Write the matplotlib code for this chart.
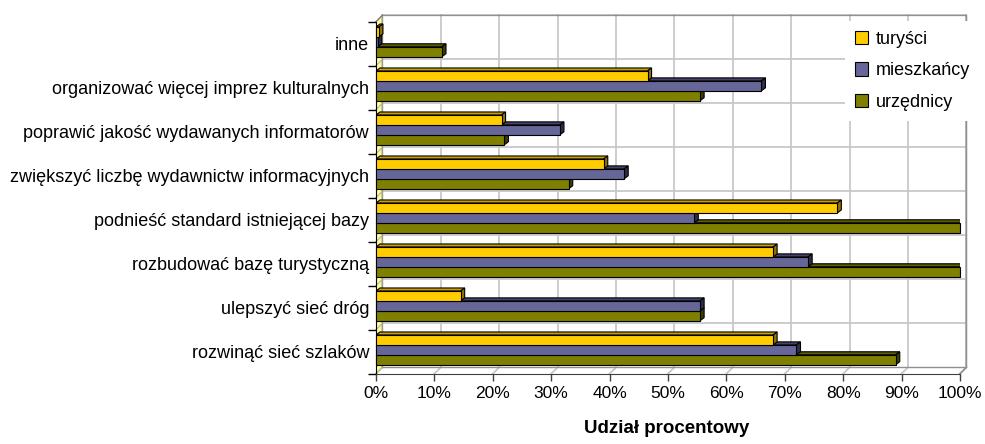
import matplotlib.pyplot as plt
from matplotlib.patches import Polygon, Patch
import numpy as np

plt.rcParams['font.family'] = ['Liberation Sans', 'DejaVu Sans']

# data (percent)
categories = ['inne',
              'organizować więcej imprez kulturalnych',
              'poprawić jakość wydawanych informatorów',
              'zwiększyć liczbę wydawnictw informacyjnych',
              'podnieść standard istniejącej bazy',
              'rozbudować bazę turystyczną',
              'ulepszyć sieć dróg',
              'rozwinąć sieć szlaków']
turysci = [0.5, 46.5, 21.5, 39, 79, 68, 14.5, 68]
mieszkancy = [0.3, 66, 31.5, 42.5, 54.5, 74, 55.5, 72]
urzednicy = [11.3, 55.5, 22, 33, 100, 100, 55.5, 89]
series_names = ['turyści', 'mieszkańcy', 'urzędnicy']
x_ticks = [0, 10, 20, 30, 40, 50, 60, 70, 80, 90, 100]

# colours: front, top, side
colors = [('#FFCC00', '#C9A000', '#8F7200'),
          ('#666699', '#44446A', '#2E2E4A'),
          ('#808000', '#5C5C00', '#3C3C00')]

W, H = 985, 444
fig = plt.figure(figsize=(W / 100, H / 100), dpi=100)
ax_left, ax_top, ax_w, ax_h = 376, 21.7, 584, 352
ax = fig.add_axes([ax_left / W, 1 - (ax_top + ax_h) / H, ax_w / W, ax_h / H])

n = len(categories)
ax.set_xlim(0, 100)
ax.set_ylim(n - 0.5, -0.5)

# pixel -> data unit helpers
px_x = 100 / ax_w
px_y = n / ax_h
off_x, off_y = 6.4 * px_x, 6.4 * px_y      # depth of the chart box
bdx, bdy = 4 * px_x, 3 * px_y              # depth of each bar

grid_c = '#c8c8c8'
border_c = '#909090'
bottom = n - 0.5
top = -0.5

# back wall grid
for xv in x_ticks:
    ax.plot([xv + off_x, xv + off_x], [top - off_y, bottom - off_y],
            color=grid_c, lw=1.3, zorder=0.5, clip_on=False)
    # floor diagonals
    ax.plot([xv, xv + off_x], [bottom, bottom - off_y],
            color=grid_c, lw=1.3, zorder=0.5, clip_on=False)
boundaries = np.arange(n + 1) - 0.5
for yb in boundaries[1:-1]:
    ax.plot([off_x, 100 + off_x], [yb - off_y, yb - off_y],
            color=grid_c, lw=1.3, zorder=0.5, clip_on=False)

# left wall
wall = Polygon([(0, top), (off_x, top - off_y), (off_x, bottom - off_y), (0, bottom)],
               closed=True, facecolor='#FFFF99', edgecolor='none', zorder=0.4, clip_on=False)
ax.add_patch(wall)
for yb in boundaries:
    ax.plot([0, off_x], [yb, yb - off_y], color='#c0c0a0', lw=1.0, zorder=0.6, clip_on=False)

# box border
ax.plot([off_x, 100 + off_x, 100 + off_x, 100],
        [top - off_y, top - off_y, bottom - off_y, bottom],
        color=border_c, lw=1.2, zorder=0.7, clip_on=False)
ax.plot([off_x, 100 + off_x], [bottom - off_y, bottom - off_y],
        color=border_c, lw=1.0, zorder=0.7, clip_on=False)
ax.plot([off_x, off_x], [top - off_y, bottom - off_y],
        color='#a0a080', lw=1.0, zorder=0.7, clip_on=False)
ax.plot([0, off_x], [top, top - off_y], color='#808080', lw=1.0, zorder=0.7, clip_on=False)

# bars with a small 3d depth
h = 0.225
first_top = -0.38
values = [turysci, mieszkancy, urzednicy]
z = 2
for i in range(n):
    for s in [2, 1, 0]:
        v = values[s][i]
        yt = i + first_top + s * h
        yb = yt + h
        front, topc, side = colors[s]
        top_face = Polygon([(0, yt), (v, yt), (v + bdx, yt - bdy), (bdx, yt - bdy)],
                           closed=True, facecolor=topc, edgecolor='black', lw=0.8, zorder=z)
        end_face = Polygon([(v, yt), (v + bdx, yt - bdy), (v + bdx, yb - bdy), (v, yb)],
                           closed=True, facecolor=side, edgecolor='black', lw=0.8, zorder=z)
        ax.add_patch(top_face)
        ax.add_patch(end_face)
        ax.barh(yt + h / 2, v, height=h, color=front, edgecolor='black', lw=0.8,
                zorder=z + 0.1, clip_on=False)
        z += 0.2

# axes
for sp in ['top', 'right']:
    ax.spines[sp].set_visible(False)
ax.spines['left'].set_color('black')
ax.spines['bottom'].set_color('#404040')
ax.spines['left'].set_zorder(1)

ax.set_xticks(x_ticks)
ax.set_xticklabels([f'{t}%' for t in x_ticks])
ax.tick_params(axis='x', length=5, width=1, color='#404040', labelsize=12.5, pad=4)
ax.set_yticks(boundaries)
ax.set_yticklabels([])
ax.tick_params(axis='y', which='major', length=6, width=1, color='black')
ax.set_yticks(np.arange(n), minor=True)
ax.set_yticklabels(categories, minor=True)
ax.tick_params(axis='y', which='minor', length=0, pad=5, labelsize=13)

fig.text(667 / W, 1 - 428 / H, 'Udział procentowy', ha='center', va='center',
         fontsize=13.5, fontweight='bold')

handles = [Patch(facecolor=colors[k][0], edgecolor='black', lw=0.8) for k in range(3)]
leg = ax.legend(handles, series_names, loc='upper left',
                bbox_to_anchor=(845 / W, 1 - 21 / H), bbox_transform=fig.transFigure,
                fontsize=13, frameon=True, fancybox=False, edgecolor='none',
                facecolor='white', framealpha=1, handlelength=0.75, handleheight=0.75,
                handletextpad=0.4, labelspacing=0.8, borderpad=0.55, borderaxespad=0)
leg.set_zorder(10)

fig.savefig('out.png', dpi=100)
